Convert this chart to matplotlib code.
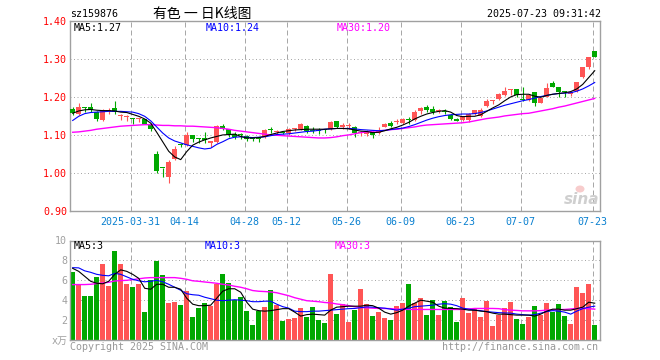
import matplotlib
matplotlib.use('Agg')
import matplotlib.pyplot as plt
from matplotlib.patches import Ellipse
import numpy as np

# ---------------- data ----------------
code = "sz159876"
title = "有色 一 日K线图"
stamp = "2025-07-23 09:31:42"

opens = [1.170, 1.157, 1.173, 1.174, 1.161, 1.140, 1.165, 1.171, 1.151, 1.148,
         1.145, 1.142, 1.142, 1.130, 1.051, 1.015, 0.989, 1.038, 1.075, 1.075,
         1.101, 1.091, 1.093, 1.081, 1.083, 1.125, 1.116, 1.104, 1.101, 1.098,
         1.092, 1.091, 1.096, 1.114, 1.109, 1.107, 1.105, 1.116, 1.116, 1.125,
         1.113, 1.113, 1.114, 1.117, 1.138, 1.123, 1.124, 1.123, 1.106, 1.103,
         1.109, 1.105, 1.123, 1.133, 1.135, 1.133, 1.140, 1.140, 1.165, 1.174,
         1.168, 1.163, 1.162, 1.153, 1.143, 1.140, 1.141, 1.156, 1.151, 1.177,
         1.190, 1.196, 1.206, 1.218, 1.222, 1.194, 1.193, 1.215, 1.186, 1.202,
         1.237, 1.228, 1.214, 1.209, 1.217, 1.253, 1.279, 1.322]
highs = [1.174, 1.185, 1.174, 1.185, 1.164, 1.168, 1.173, 1.190, 1.157, 1.153,
         1.146, 1.146, 1.144, 1.133, 1.060, 1.015, 1.034, 1.071, 1.079, 1.109,
         1.101, 1.093, 1.109, 1.082, 1.127, 1.130, 1.116, 1.110, 1.107, 1.100,
         1.096, 1.094, 1.116, 1.123, 1.115, 1.110, 1.118, 1.120, 1.132, 1.127,
         1.121, 1.119, 1.117, 1.137, 1.138, 1.133, 1.133, 1.125, 1.111, 1.115,
         1.112, 1.121, 1.133, 1.138, 1.142, 1.146, 1.148, 1.167, 1.175, 1.180,
         1.176, 1.168, 1.168, 1.157, 1.145, 1.152, 1.160, 1.167, 1.171, 1.195,
         1.192, 1.211, 1.228, 1.222, 1.222, 1.228, 1.209, 1.215, 1.199, 1.237,
         1.243, 1.228, 1.217, 1.215, 1.241, 1.279, 1.307, 1.322]
lows = [1.153, 1.154, 1.162, 1.162, 1.138, 1.137, 1.157, 1.157, 1.140, 1.137,
        1.129, 1.135, 1.130, 1.112, 1.002, 0.990, 0.975, 1.035, 1.068, 1.072,
        1.083, 1.079, 1.079, 1.070, 1.080, 1.114, 1.096, 1.090, 1.089, 1.085,
        1.084, 1.082, 1.094, 1.105, 1.102, 1.103, 1.102, 1.112, 1.114, 1.107,
        1.105, 1.103, 1.106, 1.115, 1.119, 1.117, 1.117, 1.096, 1.098, 1.097,
        1.094, 1.103, 1.121, 1.122, 1.129, 1.129, 1.129, 1.138, 1.156, 1.162,
        1.155, 1.159, 1.155, 1.141, 1.137, 1.138, 1.136, 1.154, 1.147, 1.175,
        1.182, 1.193, 1.203, 1.206, 1.202, 1.189, 1.191, 1.178, 1.184, 1.200,
        1.226, 1.200, 1.202, 1.204, 1.215, 1.250, 1.275, 1.305]
closes = [1.158, 1.174, 1.171, 1.166, 1.143, 1.167, 1.167, 1.162, 1.152, 1.149,
          1.144, 1.143, 1.131, 1.116, 1.005, 1.013, 1.029, 1.065, 1.074, 1.101,
          1.090, 1.089, 1.087, 1.082, 1.125, 1.117, 1.101, 1.095, 1.100, 1.090,
          1.091, 1.089, 1.114, 1.113, 1.110, 1.106, 1.116, 1.117, 1.130, 1.112,
          1.112, 1.111, 1.113, 1.135, 1.122, 1.125, 1.125, 1.107, 1.107, 1.111,
          1.101, 1.114, 1.131, 1.125, 1.137, 1.142, 1.139, 1.162, 1.171, 1.167,
          1.162, 1.164, 1.161, 1.142, 1.137, 1.150, 1.155, 1.167, 1.167, 1.190,
          1.192, 1.208, 1.217, 1.222, 1.206, 1.193, 1.206, 1.186, 1.197, 1.225,
          1.228, 1.215, 1.213, 1.215, 1.241, 1.279, 1.307, 1.307]

ma5 = [1.158, 1.164, 1.167, 1.168, 1.166, 1.165, 1.165, 1.164, 1.161, 1.160,
       1.155, 1.150, 1.143, 1.132, 1.108, 1.083, 1.058, 1.043, 1.036, 1.057,
       1.074, 1.082, 1.088, 1.093, 1.097, 1.101, 1.102, 1.103, 1.097, 1.093,
       1.093, 1.094, 1.097, 1.102, 1.106, 1.110, 1.112, 1.114, 1.115, 1.116,
       1.116, 1.116, 1.116, 1.117, 1.118, 1.118, 1.117, 1.114, 1.111, 1.110,
       1.107, 1.108, 1.112, 1.117, 1.121, 1.127, 1.134, 1.143, 1.150, 1.156,
       1.160, 1.163, 1.165, 1.161, 1.152, 1.149, 1.150, 1.150, 1.154, 1.163,
       1.172, 1.180, 1.191, 1.201, 1.207, 1.208, 1.208, 1.203, 1.200, 1.205,
       1.208, 1.210, 1.212, 1.215, 1.222, 1.234, 1.252, 1.270]
ma10 = [1.139, 1.150, 1.157, 1.160, 1.161, 1.162, 1.163, 1.163, 1.163, 1.162,
        1.161, 1.157, 1.150, 1.138, 1.122, 1.106, 1.093, 1.085, 1.080, 1.075,
        1.071, 1.067, 1.064, 1.066, 1.076, 1.083, 1.091, 1.095, 1.096, 1.095,
        1.094, 1.095, 1.096, 1.099, 1.102, 1.103, 1.104, 1.106, 1.108, 1.110,
        1.111, 1.113, 1.116, 1.117, 1.118, 1.118, 1.118, 1.117, 1.115, 1.114,
        1.113, 1.112, 1.113, 1.115, 1.117, 1.119, 1.123, 1.128, 1.134, 1.140,
        1.145, 1.149, 1.152, 1.154, 1.155, 1.156, 1.156, 1.157, 1.160, 1.164,
        1.169, 1.174, 1.179, 1.183, 1.187, 1.191, 1.194, 1.198, 1.202, 1.205,
        1.208, 1.210, 1.211, 1.212, 1.216, 1.222, 1.230, 1.239]
ma30 = [1.108, 1.109, 1.111, 1.113, 1.116, 1.118, 1.120, 1.122, 1.124, 1.125,
        1.126, 1.127, 1.128, 1.128, 1.127, 1.126, 1.126, 1.125, 1.125, 1.124,
        1.124, 1.123, 1.122, 1.121, 1.120, 1.118, 1.116, 1.113, 1.111, 1.109,
        1.107, 1.105, 1.103, 1.101, 1.100, 1.099, 1.098, 1.097, 1.096, 1.095,
        1.094, 1.093, 1.093, 1.094, 1.096, 1.099, 1.101, 1.104, 1.107, 1.109,
        1.111, 1.112, 1.113, 1.115, 1.116, 1.118, 1.120, 1.122, 1.125, 1.127,
        1.128, 1.129, 1.130, 1.131, 1.132, 1.133, 1.135, 1.138, 1.141, 1.144,
        1.146, 1.148, 1.151, 1.153, 1.155, 1.157, 1.158, 1.161, 1.164, 1.167,
        1.170, 1.174, 1.177, 1.181, 1.185, 1.189, 1.193, 1.197]

volumes = [6.80, 5.57, 4.40, 4.40, 6.30, 7.60, 5.40, 8.90, 7.60, 5.60,
           5.33, 5.67, 2.83, 6.00, 7.90, 6.50, 3.73, 3.83, 3.50, 4.90,
           2.30, 3.17, 3.70, 3.40, 5.67, 6.60, 5.77, 4.00, 4.33, 2.90,
           1.50, 2.87, 3.30, 5.00, 3.47, 1.90, 2.07, 2.20, 3.17, 2.27,
           3.30, 2.00, 1.73, 6.63, 2.60, 3.57, 1.83, 2.97, 5.10, 3.60,
           2.40, 2.83, 2.23, 2.00, 3.43, 3.73, 5.63, 3.70, 4.23, 2.50,
           3.97, 2.50, 3.90, 3.30, 1.83, 4.23, 2.73, 3.17, 2.33, 3.90,
           1.43, 2.50, 3.17, 3.80, 2.10, 1.63, 2.33, 3.40, 2.50, 3.70,
           2.80, 3.60, 2.40, 1.63, 5.30, 4.73, 5.63, 1.50]
vma5 = [7.20, 6.90, 6.40, 5.90, 5.70, 5.65, 5.90, 6.60, 7.05, 6.90,
        6.60, 6.20, 5.20, 5.10, 5.60, 5.60, 5.30, 5.30, 5.10, 4.20,
        3.60, 3.45, 3.45, 3.50, 4.20, 4.90, 5.15, 5.15, 4.80, 3.80,
        3.10, 2.95, 2.90, 2.95, 3.05, 3.15, 3.15, 2.80, 2.40, 2.55,
        2.60, 2.55, 2.50, 3.00, 3.30, 3.35, 3.40, 3.40, 3.40, 3.50,
        3.45, 3.20, 2.80, 2.60, 2.75, 3.00, 3.40, 3.70, 4.00, 3.90,
        3.80, 3.40, 3.20, 3.17, 3.15, 3.10, 3.00, 3.00, 2.90, 2.85,
        2.70, 2.60, 2.60, 2.55, 2.50, 2.50, 2.50, 2.40, 2.60, 2.90,
        3.10, 3.10, 3.00, 3.00, 3.15, 3.30, 3.80, 3.70]
vma10 = [7.27, 7.25, 6.95, 6.80, 6.60, 6.50, 6.45, 6.70, 6.60, 6.35,
         6.10, 5.95, 5.85, 5.90, 6.00, 5.85, 5.60, 5.30, 5.00, 4.65,
         4.55, 4.50, 4.30, 4.15, 4.00, 3.95, 4.00, 4.05, 4.00, 3.95,
         3.85, 3.85, 3.90, 3.90, 3.60, 3.35, 3.20, 2.90, 2.85, 2.85,
         2.90, 2.90, 2.95, 3.00, 3.05, 3.10, 3.15, 3.17, 3.25, 3.33,
         3.30, 3.25, 3.20, 3.10, 3.00, 3.10, 3.20, 3.35, 3.40, 3.45,
         3.50, 3.60, 3.65, 3.60, 3.45, 3.20, 3.10, 3.00, 2.95, 2.85,
         2.80, 2.75, 2.72, 2.70, 2.60, 2.55, 2.50, 2.55, 2.70, 2.85,
         2.95, 2.90, 2.80, 2.60, 2.90, 3.15, 3.30, 3.40]
vma30 = [5.57, 5.57, 5.57, 5.60, 5.67, 5.73, 5.80, 5.93, 5.97, 6.00,
         6.07, 6.15, 6.23, 6.27, 6.27, 6.27, 6.27, 6.27, 6.20, 6.10,
         5.95, 5.90, 5.83, 5.77, 5.70, 5.60, 5.53, 5.40, 5.30, 5.15,
         4.97, 4.90, 4.87, 4.83, 4.75, 4.60, 4.45, 4.25, 4.10, 3.95,
         3.90, 3.85, 3.77, 3.73, 3.62, 3.55, 3.45, 3.35, 3.27, 3.23,
         3.20, 3.17, 3.17, 3.15, 3.10, 3.08, 3.07, 3.07, 3.07, 3.07,
         3.07, 3.07, 3.07, 3.07, 3.07, 3.07, 3.12, 3.17, 3.17, 3.17,
         3.17, 3.15, 3.05, 3.00, 2.97, 2.93, 2.93, 2.93, 2.95, 3.00,
         3.03, 3.05, 3.07, 3.12, 3.17, 3.17, 3.15, 3.10]

tick_idx = [10, 19, 29, 36, 46, 55, 65, 75, 87]
tick_labels = ["2025-03-31", "04-14", "04-28", "05-12", "05-26",
               "06-09", "06-23", "07-07", "07-23"]
price_ticks = [0.90, 1.00, 1.10, 1.20, 1.30, 1.40]
vol_ticks = [0, 2, 4, 6, 8, 10]
vol_tick_labels = ["x万", "2", "4", "6", "8", "10"]

ma_price_labels = ["MA5:1.27", "MA10:1.24", "MA30:1.20"]
ma_vol_labels = ["MA5:3", "MA10:3", "MA30:3"]

# ---------------- style ----------------
UP = '#ff5555'
DOWN = '#00a800'
GRID = '#a8a8a8'
FRAME = '#a0a0a0'
MONO = ['DejaVu Sans Mono', 'Noto Sans CJK SC']
FS = 7.2

W, H = 660, 360
fig = plt.figure(figsize=(W / 100, H / 100), dpi=100)
fig.patch.set_facecolor('white')


def fx(x):
    return x / W


def fy(y):
    return 1 - y / H


L, R = 70, 600
ax = fig.add_axes([fx(L), fy(211.3), (R - L) / W, (211.3 - 21.3) / H])
axv = fig.add_axes([fx(L), fy(340), (R - L) / W, (340 - 240.5) / H])

n = len(closes)
x = np.arange(n)
o = np.array(opens); c = np.array(closes)
hi = np.array(highs); lo = np.array(lows)
up = c >= o
cols = [UP if u else DOWN for u in up]

for a in (ax, axv):
    a.set_xlim(-0.45, n - 0.12)
    for s in a.spines.values():
        s.set_color(FRAME)
        s.set_linewidth(1.0)
    for t in tick_idx:
        a.axvline(t - 0.33, color=GRID, lw=0.72, ls=(0, (5, 3)), zorder=0)

# main panel
ax.set_ylim(0.90, 1.40)
for v in price_ticks[1:-1]:
    ax.axhline(v, color=GRID, lw=0.72, ls=(0, (1, 2.5)), zorder=0)

ax.vlines(x, lo, hi, colors=cols, lw=0.8, zorder=2)
body_b = np.minimum(o, c)
body_h = np.maximum(np.abs(c - o), 0.0028)
ax.bar(x, body_h, bottom=body_b, width=0.78, color=cols, linewidth=0, zorder=3)

ax.plot(x, ma30, color='#ff00ff', lw=1.0, zorder=4)
ax.plot(x, ma10, color='#0000ff', lw=0.8, zorder=5)
ax.plot(x, ma5, color='black', lw=0.8, zorder=6)

ax.set_yticks(price_ticks)
ax.set_yticklabels(["%.2f" % v for v in price_ticks], color='#ff0000',
                   fontsize=FS, family=MONO)
ax.set_xticks([t - 0.33 for t in tick_idx])
ax.set_xticklabels(tick_labels, color='#0a80d0', fontsize=FS, family=MONO)
ax.tick_params(axis='both', length=0)
ax.tick_params(axis='y', pad=2)
ax.tick_params(axis='x', pad=4)

# volume panel
axv.set_ylim(0, 10)
for v in vol_ticks[1:-1]:
    axv.axhline(v, color=GRID, lw=0.72, ls=(0, (1, 2.5)), zorder=0)
axv.bar(x, volumes, width=0.78, color=cols, linewidth=0, zorder=2)
axv.plot(x, vma30, color='#ff00ff', lw=1.0, zorder=4)
axv.plot(x, vma10, color='#0000ff', lw=0.8, zorder=5)
axv.plot(x, vma5, color='black', lw=0.8, zorder=6)
axv.set_xticks([])
axv.set_yticks(vol_ticks)
axv.set_yticklabels(vol_tick_labels, color='#a0a0a0', fontsize=FS, family=MONO)
axv.tick_params(axis='both', length=0)
axv.tick_params(axis='y', pad=2)

# texts
fig.text(fx(70), fy(14), code, fontsize=FS, family=MONO, va='center', ha='left')
fig.text(fx(202), fy(14), title, fontsize=10, family=['Noto Sans CJK SC', 'DejaVu Sans'],
         va='center', ha='center')
fig.text(fx(601), fy(14), stamp, fontsize=FS, family=MONO, va='center', ha='right')

ma_cols = ['black', '#0000ff', '#ff00ff']
ma_x = [74, 206, 337]
for lab, col, xx in zip(ma_price_labels, ma_cols, ma_x):
    fig.text(fx(xx), fy(28), lab, color=col, fontsize=FS, family=MONO, va='center', ha='left')
ma_xv = [74, 205, 335]
for lab, col, xx in zip(ma_vol_labels, ma_cols, ma_xv):
    fig.text(fx(xx), fy(246), lab, color=col, fontsize=FS, family=MONO, va='center', ha='left')

fig.text(fx(70), fy(347), "Copyright 2025 SINA.COM", color='#999999', fontsize=FS,
         family=MONO, va='center', ha='left')
fig.text(fx(598), fy(347), "http://finance.sina.com.cn", color='#999999', fontsize=FS,
         family=MONO, va='center', ha='right')

# sina watermark
fig.patches.append(Ellipse((fx(580), fy(189)), 9 / W, 7 / H, transform=fig.transFigure,
                           facecolor='#f6c0c0', edgecolor='none', alpha=0.8))
fig.text(fx(582), fy(199), "sina", color='#cfcfcf', fontsize=11, fontweight='bold',
         style='italic', va='center', ha='center')

fig.savefig('out.png', dpi=100, facecolor='white')
